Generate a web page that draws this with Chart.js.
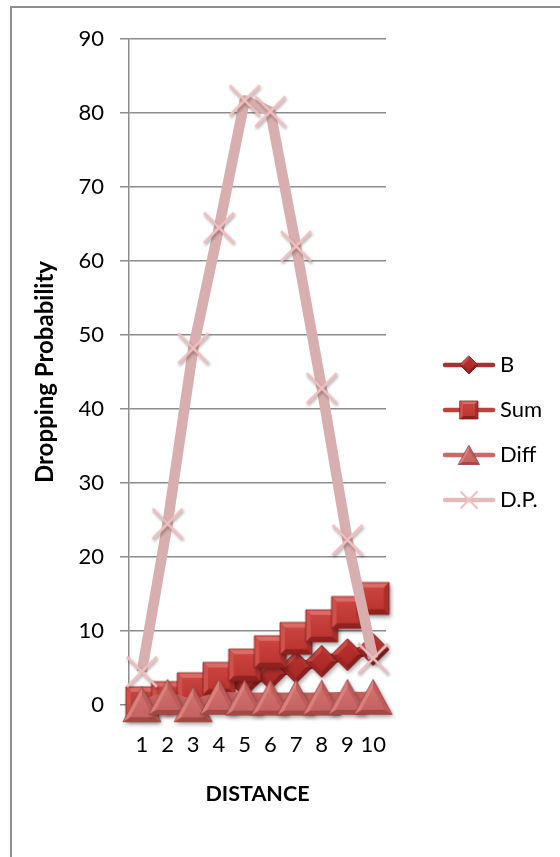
<!DOCTYPE html>
<html><head><meta charset="utf-8">
<script src="https://cdn.jsdelivr.net/npm/chart.js@4.4.1/dist/chart.umd.min.js"></script>
<style>
html,body{margin:0;padding:0;background:#fff;width:560px;height:857px;overflow:hidden;}
#frame{position:absolute;left:10px;top:6px;width:700px;height:1000px;border:2px solid #8e8e8e;box-sizing:border-box;}
#wrap{position:absolute;left:0;top:0;width:560px;height:857px;}
</style></head><body>
<div id="frame"></div>
<div id="wrap"><canvas id="c" width="560" height="857"></canvas></div>
<script>
// ---- data ----
const categories = ['1','2','3','4','5','6','7','8','9','10'];
const seriesNames = ['B','Sum','Diff','D.P.'];
const bValues    = [0.3, 0.9, 1.6, 2.4, 3.2, 4.2, 5.1, 5.9, 6.8, 7.5];
const sumValues  = [0.3, 1.0, 2.2, 3.6, 5.4, 7.2, 9.0, 10.7, 12.5, 14.4];
const diffValues = [0.1, 1.1, 0.1, 1.1, 1.0, 1.0, 1.0, 1.0, 1.1, 1.1];
const dpValues   = [4.5, 24.5, 48.2, 64.5, 81.7, 80.2, 62.0, 42.8, 22.3, 6.3];
const yTicks     = [0, 10, 20, 30, 40, 50, 60, 70, 80, 90];

// ---- styles ----
const FONT = 'Lato';
const lineColors = ['#A52D2A', '#BE3A36', '#C4625F', '#D9AEAE'];
const legendLineColors = ['#A83230', '#C0403C', '#C86966', '#E2BABA'];
const palSquare = {top:'#DE6A65', right:'#A8302C', bottom:'#8F221F', left:'#D0504B', f1:'#CD4743', f2:'#B9322E', outline:'#84201D'};
const palDiamond = {top:'#B53431', right:'#8A1F1D', bottom:'#9C2623', left:'#CC4A46', f1:'#BA322F', f2:'#A52724', outline:'#7A1A18'};
const palTri = {top:'#BD5C59', right:'#A24845', bottom:'#DA807D', f1:'#D4746F', f2:'#C3615E', outline:'#9A4644'};

function mk(w, h){const c=document.createElement('canvas');c.width=w;c.height=h;return [c,c.getContext('2d')];}
function poly(ctx, pts, fill){ctx.beginPath();ctx.moveTo(pts[0][0],pts[0][1]);for(let i=1;i<pts.length;i++)ctx.lineTo(pts[i][0],pts[i][1]);ctx.closePath();ctx.fillStyle=fill;ctx.fill();}
function shrink(pts,cx,cy,k){return pts.map(p=>[cx+(p[0]-cx)*k, cy+(p[1]-cy)*k]);}
function beveled(ctx, pts, cx, cy, k, shades, pal, shadow){
  const ys = pts.map(p=>p[1]);
  const g = ctx.createLinearGradient(0, Math.min(...ys), 0, Math.max(...ys));
  g.addColorStop(0, pal.f1); g.addColorStop(1, pal.f2);
  ctx.save();
  if (shadow){ctx.shadowColor='rgba(0,0,0,0.35)';ctx.shadowBlur=4;ctx.shadowOffsetX=1.5;ctx.shadowOffsetY=2.5;}
  poly(ctx, pts, pal.f2);
  ctx.restore();
  const inner = shrink(pts,cx,cy,k);
  for(let i=0;i<pts.length;i++){
    const j=(i+1)%pts.length;
    poly(ctx,[pts[i],pts[j],inner[j],inner[i]],shades[i]);
  }
  poly(ctx, inner, g);
  ctx.beginPath();ctx.moveTo(pts[0][0],pts[0][1]);for(let i=1;i<pts.length;i++)ctx.lineTo(pts[i][0],pts[i][1]);ctx.closePath();
  ctx.strokeStyle=pal.outline;ctx.lineWidth=0.8;ctx.stroke();
}
function drawSquare(ctx,cx,cy,s,shadow){
  const h=s/2;
  beveled(ctx,[[cx-h,cy-h],[cx+h,cy-h],[cx+h,cy+h],[cx-h,cy+h]],cx,cy,0.66,
    [palSquare.top,palSquare.right,palSquare.bottom,palSquare.left],palSquare,shadow);
}
function drawDiamond(ctx,cx,cy,r,shadow){
  beveled(ctx,[[cx,cy-r],[cx+r,cy],[cx,cy+r],[cx-r,cy]],cx,cy,0.62,
    [palDiamond.top,palDiamond.right,palDiamond.bottom,palDiamond.left],palDiamond,shadow);
}
function drawTri(ctx,cx,cy,w,h,shadow){
  const pts=[[cx,cy-h/2],[cx+w/2,cy+h/2],[cx-w/2,cy+h/2]];
  beveled(ctx,pts,cx,cy+h/6,0.62,[palTri.top,palTri.right,palTri.bottom],palTri,shadow);
}
function drawX(ctx,cx,cy,s,lw,shadow){
  const h=s/2;
  ctx.save();
  if(shadow){ctx.shadowColor='rgba(0,0,0,0.35)';ctx.shadowBlur=3;ctx.shadowOffsetX=1;ctx.shadowOffsetY=2;}
  ctx.strokeStyle='#F0BEBE';ctx.lineWidth=lw;ctx.lineCap='butt';
  ctx.beginPath();ctx.moveTo(cx-h,cy-h);ctx.lineTo(cx+h,cy+h);ctx.moveTo(cx+h,cy-h);ctx.lineTo(cx-h,cy+h);ctx.stroke();
  ctx.restore();
}

// chart markers
function markerCanvas(w,h,fn){const [c,ctx]=mk(w,h);fn(ctx,w/2,h/2);return c;}
const mkB    = markerCanvas(48,48,(ctx,x,y)=>drawDiamond(ctx,x,y,16,true));
const mkSum  = markerCanvas(50,50,(ctx,x,y)=>drawSquare(ctx,x,y,32,true));
const mkDiff = markerCanvas(54,52,(ctx,x,y)=>drawTri(ctx,x,y,38,35,true));
const mkDP   = markerCanvas(48,48,(ctx,x,y)=>drawX(ctx,x,y,30,2.7,true));

// legend icons (line + small marker)
function legendIcon(i){
  const [c,ctx]=mk(120,28);
  ctx.strokeStyle=legendLineColors[i];ctx.lineWidth=4.5;ctx.lineCap='round';
  ctx.beginPath();ctx.moveTo(56,14);ctx.lineTo(104,14);ctx.stroke();
  if(i===0) drawDiamond(ctx,80,14,9,false);
  if(i===1) drawSquare(ctx,80,14,18,false);
  if(i===2) drawTri(ctx,80,14,21,19,false);
  if(i===3) drawX(ctx,80,14,17,2,false);
  return c;
}
const legendIcons=[0,1,2,3].map(legendIcon);

const valueSets=[bValues,sumValues,diffValues,dpValues];
const markers=[mkB,mkSum,mkDiff,mkDP];
const drawOrder=[3,2,1,0];
const lineWidths=[10,10,10,10.5];
const LEGEND_W = 166;

const datasets = seriesNames.map((name,i)=>({
  label:name,
  data:valueSets[i],
  borderColor:lineColors[i],
  backgroundColor:lineColors[i],
  borderWidth:lineWidths[i],
  borderJoinStyle:'round',
  tension:0,
  pointStyle:markers[i],
  pointRadius:10,
  pointHoverRadius:10,
  order:drawOrder[i],
  clip:false
}));

const legendWidthFix = {
  id:'legendWidthFix',
  afterInit(chart){
    const lg = chart.legend;
    if(!lg) return;
    const origFit = lg.fit;
    lg.fit = function(){ origFit.call(this); this.width = LEGEND_W; };
  }
};

Chart.defaults.font.family = FONT;
new Chart(document.getElementById('c'), {
  type:'line',
  data:{labels:categories, datasets},
  plugins:[legendWidthFix],
  options:{
    responsive:false, animation:false, events:[],
    layout:{padding:{left:20,right:8,top:39,bottom:31}},
    plugins:{
      tooltip:{enabled:false},
      legend:{
        position:'right',
        maxWidth:LEGEND_W,
        labels:{
          usePointStyle:true, pointStyleWidth:80, padding:23,
          color:'#000', font:{family:FONT,size:22},
          generateLabels(chart){
            const items=Chart.defaults.plugins.legend.labels.generateLabels(chart);
            items.forEach(it=>{it.pointStyle=legendIcons[it.datasetIndex];});
            return items;
          },
          sort:(a,b)=>a.datasetIndex-b.datasetIndex
        }
      }
    },
    scales:{
      x:{
        type:'category', offset:true,
        grid:{display:false, drawTicks:false},
        border:{display:true,color:'#8c8c8c',width:1.5},
        ticks:{color:'#000',font:{family:FONT,size:22},padding:27,maxRotation:0,autoSkip:false},
        title:{display:true,text:'DISTANCE',color:'#000',font:{family:FONT,size:21.5,weight:'bold'},padding:{top:0,bottom:19}},
        afterFit:s=>{s.height=121;}
      },
      y:{
        min:0,max:90,
        afterBuildTicks:s=>{s.ticks=yTicks.map(v=>({value:v}));},
        grid:{color:'#8c8c8c',lineWidth:1.5,tickLength:9,drawTicks:true},
        border:{display:true,color:'#8c8c8c',width:1.5},
        ticks:{color:'#000',font:{family:FONT,size:22},padding:16},
        title:{display:true,text:'Dropping Probability',color:'#000',font:{family:FONT,size:24,weight:'bold'},padding:{top:11,bottom:0}},
        afterFit:s=>{s.width=109;}
      }
    }
  }
});
</script>
</body></html>
